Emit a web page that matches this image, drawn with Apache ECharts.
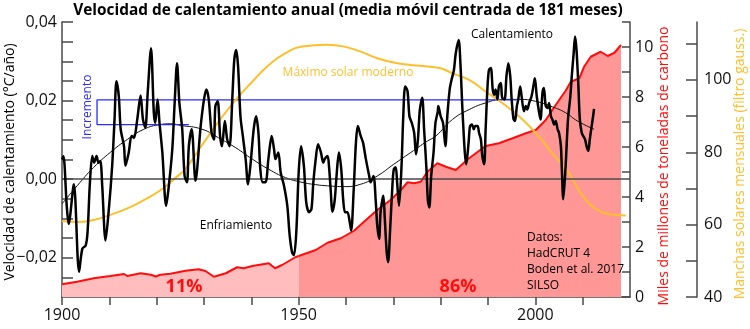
<!DOCTYPE html>
<html><head><meta charset="utf-8">
<script src="https://cdn.jsdelivr.net/npm/echarts@6/dist/echarts.min.js"></script>
<style>html,body{margin:0;padding:0;background:#fff}#c{width:750px;height:329px}</style>
</head><body><div id="c"></div>
<script>
// Warming rate (°C/año), 181-month centred moving average
const rateYears = [1900.0,1900.3,1901.0,1901.4,1902.5,1903.6,1904.3,1905.0,1905.4,1905.9,1906.4,1906.8,1907.3,1907.7,1908.1,1908.5,1909.2,1909.9,1910.6,1911.1,1911.5,1912.0,1912.4,1913.1,1913.4,1914.1,1914.7,1915.2,1915.9,1916.6,1917.1,1917.6,1918.1,1918.8,1919.4,1919.7,1920.2,1920.6,1921.2,1922.0,1922.5,1923.3,1923.8,1924.3,1924.8,1925.4,1925.9,1926.4,1926.8,1927.4,1928.2,1929.3,1930.0,1930.5,1931.0,1931.6,1932.1,1932.4,1932.9,1933.4,1933.8,1934.4,1934.9,1935.4,1936.0,1936.4,1936.8,1937.2,1937.7,1938.2,1938.8,1939.3,1939.8,1940.5,1941.0,1941.5,1941.9,1942.4,1943.0,1943.6,1944.3,1944.8,1945.1,1945.7,1946.2,1946.9,1947.6,1948.1,1948.6,1949.0,1949.5,1950.0,1950.5,1951.1,1951.6,1952.2,1952.7,1953.1,1953.6,1954.1,1954.7,1955.2,1955.5,1956.1,1956.4,1956.8,1957.1,1957.6,1958.0,1958.5,1959.0,1959.4,1959.8,1960.3,1960.8,1961.1,1961.6,1962.1,1962.5,1963.1,1963.6,1964.2,1964.9,1965.2,1965.8,1966.3,1966.6,1967.0,1967.3,1967.7,1967.9,1968.2,1968.6,1968.9,1969.3,1969.8,1970.1,1970.5,1970.8,1971.2,1971.7,1972.1,1972.5,1973.0,1973.4,1973.9,1974.4,1974.8,1975.2,1975.6,1976.1,1976.5,1977.0,1977.3,1977.6,1978.0,1978.5,1978.9,1979.4,1979.5,1980.0,1980.5,1981.0,1981.4,1981.9,1982.3,1982.8,1983.2,1983.8,1984.2,1984.6,1985.1,1985.4,1985.9,1986.2,1986.6,1987.0,1987.3,1987.8,1988.1,1988.5,1988.8,1989.2,1989.5,1989.9,1990.2,1990.6,1991.0,1991.3,1991.6,1992.0,1992.3,1992.7,1993.0,1993.5,1993.9,1994.3,1994.7,1995.0,1995.4,1995.7,1996.1,1996.4,1996.8,1997.1,1997.6,1998.0,1998.3,1998.7,1999.2,1999.7,1999.9,2000.3,2000.8,2001.1,2001.5,2001.8,2002.2,2002.6,2002.9,2003.3,2003.6,2004.0,2004.3,2004.7,2005.0,2005.4,2005.6,2005.9,2006.4,2006.9,2007.4,2007.7,2008.1,2008.4,2008.7,2009.1,2009.4,2009.8,2010.1,2010.5,2010.9,2011.2,2011.5,2011.9,2012.2,2012.4];
const rateValues = [0.0050,0.0058,-0.0068,-0.0114,-0.0013,-0.0236,-0.0177,-0.0169,-0.0135,-0.0008,0.0059,0.0042,0.0059,0.0042,0.0046,-0.0017,-0.0156,-0.0076,0.0034,0.0152,0.0249,0.0211,0.0127,0.0084,0.0034,0.0068,0.0110,0.0105,0.0152,0.0213,0.0152,0.0131,0.0219,0.0333,0.0169,0.0143,0.0203,0.0143,0.0068,-0.0068,-0.0025,0.0076,0.0194,0.0295,0.0194,0.0127,0.0008,-0.0008,0.0084,0.0127,-0.0004,0.0135,0.0203,0.0228,0.0203,0.0118,0.0101,0.0186,0.0198,0.0110,0.0084,0.0148,0.0101,0.0084,0.0211,0.0304,0.0329,0.0287,0.0160,0.0110,0.0051,-0.0013,0.0034,0.0127,0.0160,0.0118,0.0025,-0.0008,-0.0008,0.0051,0.0110,0.0076,0.0051,0.0068,0.0017,-0.0017,-0.0068,-0.0143,-0.0186,-0.0194,-0.0135,0.0017,0.0084,0.0034,-0.0059,-0.0084,-0.0076,-0.0008,0.0051,0.0089,0.0068,0.0042,0.0051,0.0059,0.0034,-0.0034,-0.0083,-0.0055,0.0008,0.0068,0.0025,-0.0051,-0.0084,-0.0084,-0.0110,-0.0131,-0.0034,0.0093,0.0135,0.0110,0.0093,0.0051,0.0008,-0.0008,0.0008,-0.0059,-0.0118,-0.0152,-0.0084,-0.0051,-0.0042,-0.0101,-0.0186,-0.0211,-0.0135,-0.0017,0.0025,0.0030,-0.0008,-0.0068,0.0025,0.0160,0.0236,0.0224,0.0160,0.0143,0.0118,0.0063,0.0101,0.0177,0.0207,0.0127,0.0025,-0.0055,-0.0072,0.0008,0.0068,0.0143,0.0173,0.0186,0.0160,0.0143,0.0084,0.0160,0.0228,0.0253,0.0278,0.0321,0.0354,0.0287,0.0177,0.0068,0.0038,0.0093,0.0135,0.0139,0.0127,0.0135,0.0135,0.0118,0.0101,0.0059,0.0038,0.0127,0.0236,0.0278,0.0283,0.0228,0.0215,0.0228,0.0203,0.0236,0.0245,0.0207,0.0203,0.0262,0.0295,0.0262,0.0203,0.0152,0.0148,0.0186,0.0203,0.0236,0.0211,0.0173,0.0186,0.0177,0.0194,0.0211,0.0245,0.0257,0.0211,0.0169,0.0152,0.0219,0.0232,0.0186,0.0181,0.0194,0.0160,0.0152,0.0139,0.0148,0.0127,0.0118,0.0084,0.0025,-0.0051,0.0034,0.0152,0.0211,0.0262,0.0321,0.0363,0.0329,0.0236,0.0152,0.0118,0.0110,0.0101,0.0080,0.0072,0.0101,0.0135,0.0160,0.0179];

// Thin sinusoidal fit
const trendYears = [1900.0,1903.2,1906.7,1910.2,1913.8,1917.3,1920.8,1922.9,1925.0,1929.6,1933.1,1936.7,1940.2,1943.7,1947.2,1950.7,1953.6,1956.1,1959.6,1963.1,1966.6,1970.1,1973.7,1977.2,1979.0,1982.5,1986.0,1989.5,1993.0,1996.6,2000.1,2003.6,2006.4,2008.9,2012.4];
const trendValues = [-0.0063,-0.0017,0.0030,0.0068,0.0101,0.0127,0.0139,0.0141,0.0137,0.0127,0.0105,0.0080,0.0051,0.0025,0.0004,-0.0008,-0.0014,-0.0017,-0.0019,-0.0013,0.0008,0.0038,0.0068,0.0097,0.0110,0.0152,0.0177,0.0194,0.0203,0.0203,0.0198,0.0184,0.0169,0.0148,0.0127];

// "Incremento" bracket (blue)
const bracketYears = [1996.2,1907.4,1907.4,1926.8];
const bracketValues = [0.0202,0.0202,0.0139,0.0139];

// Sunspots (gaussian filtered), right outer axis
const sunYears = [1900.0,1903.2,1906.7,1910.2,1913.8,1917.3,1920.8,1923.6,1926.1,1929.6,1933.1,1936.7,1940.2,1943.7,1947.2,1950.7,1956.1,1959.6,1963.1,1966.6,1970.1,1973.7,1977.2,1980.0,1982.5,1986.0,1989.5,1993.0,1996.6,2000.1,2003.6,2006.4,2007.5,2009.6,2011.7,2013.8,2016.0,2019.1];
const sunValues = [61.0,60.7,61.3,62.7,64.5,66.8,69.5,72.5,75.5,82.0,88.5,94.5,99.5,104.1,107.4,109.2,109.7,109.2,107.8,106.0,104.8,104.1,103.7,103.2,101.8,100.0,96.8,93.6,89.9,85.3,79.7,75.5,73.3,68.7,65.4,63.6,62.9,62.5];

// Carbon emissions (miles de millones de toneladas), right inner axis
const carbonYears = [1900.0,1903.2,1906.7,1910.2,1913.1,1913.8,1916.6,1918.8,1919.8,1920.8,1922.9,1926.1,1928.9,1930.3,1932.1,1934.6,1937.0,1938.4,1940.2,1943.7,1945.0,1946.5,1949.3,1950.0,1950.4,1953.6,1956.1,1958.9,1961.7,1963.8,1966.6,1969.4,1971.6,1973.0,1974.4,1975.8,1977.2,1979.3,1981.1,1983.2,1986.0,1989.5,1992.3,1995.2,1998.0,2000.1,2002.2,2004.3,2006.4,2007.5,2009.3,2010.3,2011.7,2013.8,2015.3,2016.7,2018.1];
const carbonValues = [0.51,0.61,0.75,0.84,0.92,0.84,0.95,0.89,0.82,0.89,0.93,1.05,1.11,1.04,0.81,0.95,1.19,1.15,1.24,1.35,1.15,1.28,1.59,1.64,1.70,1.88,2.17,2.35,2.65,3.01,3.48,3.88,4.28,4.59,4.55,4.61,5.01,5.35,5.21,5.08,5.55,6.04,6.15,6.35,6.55,6.68,7.08,7.68,8.25,8.61,8.75,9.21,9.61,9.81,9.64,9.77,10.08];
const splitYear = 1950;

// Tick / label values
const xTicks = [1900,1910,1920,1930,1940,1950,1960,1970,1980,1990,2000,2010];
const xLabels = [1900,1950,2000];
const leftTicks = [-0.025,-0.02,-0.015,-0.01,-0.005,0,0.005,0.01,0.015,0.02,0.025,0.03,0.035,0.04];
const leftLabels = [-0.02,0,0.02,0.04];
const carbonTicks = [0,1,2,3,4,5,6,7,8,9,10,11];
const carbonLabels = [0,2,4,6,8,10];
const sunTicks = [40,50,60,70,80,90,100,110];
const sunLabels = [40,60,80,100];

const FONT = '"Open Sans", "Noto Sans", sans-serif';
const AX = '#4a4a4a';
const RED = '#ff0d0d';
const ORANGE = '#ffbf2b';
const BLUE = '#2a2aff';

const zip = (a, b) => a.map((v, i) => [v, b[i]]);
const near = (arr, v) => arr.some(x => Math.abs(x - v) < 1e-7);

const carbonAll = zip(carbonYears, carbonValues);
const carbonPre = carbonAll.filter(p => p[0] <= splitYear);
const carbonPost = carbonAll.filter(p => p[0] >= splitYear);

const chart = echarts.init(document.getElementById('c'), null, {renderer: 'canvas'});
const option = {
  animation: false,
  backgroundColor: '#fff',
  textStyle: {fontFamily: FONT},
  grid: {left: 62, right: 120, top: 22, bottom: 32, containLabel: false},
  xAxis: {
    type: 'value', min: 1900, max: 2020, interval: 10,
    axisLine: {show: true, onZero: false, lineStyle: {color: AX, width: 1.5}},
    axisTick: {show: true, inside: false, length: 8, customValues: xTicks, lineStyle: {color: AX, width: 1.5}},
    axisLabel: {customValues: xLabels, fontSize: 16, color: '#111', margin: 10, fontFamily: FONT,
      formatter: v => near(xLabels, v) ? String(v) : ''},
    splitLine: {show: false}
  },
  yAxis: [
    {
      type: 'value', position: 'left', min: -0.03, max: 0.04, interval: 0.005,
      axisLine: {show: true, onZero: false, lineStyle: {color: AX, width: 1.5}},
      axisTick: {show: true, inside: true, length: 11, customValues: leftTicks, lineStyle: {color: AX, width: 1.5}},
      axisLabel: {customValues: leftLabels, fontSize: 16, color: '#111', margin: 5, fontFamily: FONT,
        formatter: v => near(leftLabels, v) ? v.toFixed(2).replace('.', ',').replace('-', '\u2212') : ''},
      splitLine: {show: false}
    },
    {
      type: 'value', position: 'right', offset: 0, min: 0, max: 11, interval: 1,
      axisLine: {show: true, onZero: false, lineStyle: {color: AX, width: 1.5}},
      axisTick: {show: true, inside: true, length: 8, customValues: carbonTicks, lineStyle: {color: AX, width: 1.5}},
      axisLabel: {customValues: carbonLabels, fontSize: 16, color: '#111', margin: 5, fontFamily: FONT,
        formatter: v => near(carbonLabels, v) ? String(v) : ''},
      splitLine: {show: false}
    },
    {
      type: 'value', position: 'right', offset: 67, min: 40, max: 116, interval: 10,
      axisLine: {show: true, onZero: false, lineStyle: {color: AX, width: 1.5}},
      axisTick: {show: true, inside: true, length: 11, customValues: sunTicks, lineStyle: {color: AX, width: 1.5}},
      axisLabel: {customValues: sunLabels, fontSize: 16, color: '#111', margin: 7, fontFamily: FONT,
        formatter: v => near(sunLabels, v) ? String(v) : ''},
      splitLine: {show: false}
    }
  ],
  series: [
    {name: 'carbonPre', type: 'line', yAxisIndex: 1, data: carbonPre, symbol: 'none', z: 1,
      lineStyle: {color: RED, width: 2}, areaStyle: {color: '#ffbdbd', opacity: 1}},
    {name: 'carbonPost', type: 'line', yAxisIndex: 1, data: carbonPost, symbol: 'none', z: 1,
      lineStyle: {color: RED, width: 2}, areaStyle: {color: '#ff9797', opacity: 1}},
    {name: 'trend', type: 'line', yAxisIndex: 0, data: zip(trendYears, trendValues), symbol: 'none', smooth: true, z: 3,
      lineStyle: {color: '#111', width: 1}},
    {name: 'bracket', type: 'line', yAxisIndex: 0, data: zip(bracketYears, bracketValues), symbol: 'none', z: 3,
      lineStyle: {color: BLUE, width: 1.3}},
    {name: 'sun', type: 'line', yAxisIndex: 2, data: zip(sunYears, sunValues), symbol: 'none', smooth: true, z: 4,
      lineStyle: {color: ORANGE, width: 2}},
    {name: 'rate', type: 'line', yAxisIndex: 0, data: zip(rateYears, rateValues), symbol: 'none', smooth: 0.3, z: 5,
      lineStyle: {color: '#000', width: 2.5},
      markLine: {silent: true, symbol: 'none', label: {show: false}, animation: false,
        lineStyle: {color: AX, width: 1.5, type: 'solid'}, data: [{yAxis: 0}]}}
  ],
  graphic: [
    {type: 'text', x: 348, y: 11, z: 10, style: {text: 'Velocidad de calentamiento anual (media móvil centrada de 181 meses)', fill: '#000', fontFamily: FONT, fontWeight: 'bold', fontSize: 15.4, align: 'center', verticalAlign: 'middle', textAlign: 'center', textVerticalAlign: 'middle'}},
    {type: 'text', x: 10, y: 162, rotation: Math.PI / 2, z: 10, style: {text: 'Velocidad de calentamiento (°C/año)', fill: '#000', fontFamily: FONT, fontSize: 14, align: 'center', verticalAlign: 'middle', textAlign: 'center', textVerticalAlign: 'middle'}},
    {type: 'text', x: 664, y: 166, rotation: Math.PI / 2, z: 10, style: {text: 'Miles de millones de toneladas de carbono', fill: RED, fontFamily: FONT, fontSize: 14, align: 'center', verticalAlign: 'middle', textAlign: 'center', textVerticalAlign: 'middle'}},
    {type: 'text', x: 740, y: 164, rotation: Math.PI / 2, z: 10, style: {text: 'Manchas solares mensuales (filtro gauss.)', fill: ORANGE, fontFamily: FONT, fontSize: 14, align: 'center', verticalAlign: 'middle', textAlign: 'center', textVerticalAlign: 'middle'}},
    {type: 'text', x: 512, y: 35, z: 10, style: {text: 'Calentamiento', fill: '#000', fontFamily: FONT, fontSize: 12, align: 'center', verticalAlign: 'middle', textAlign: 'center', textVerticalAlign: 'middle'}},
    {type: 'text', x: 236, y: 226, z: 10, style: {text: 'Enfriamiento', fill: '#000', fontFamily: FONT, fontSize: 12, align: 'center', verticalAlign: 'middle', textAlign: 'center', textVerticalAlign: 'middle'}},
    {type: 'text', x: 348, y: 73, z: 10, style: {text: 'Máximo solar moderno', fill: ORANGE, fontFamily: FONT, fontSize: 12, align: 'center', verticalAlign: 'middle', textAlign: 'center', textVerticalAlign: 'middle'}},
    {type: 'text', x: 88, y: 107, rotation: Math.PI / 2, z: 10, style: {text: 'Incremento', fill: BLUE, fontFamily: FONT, fontSize: 12, align: 'center', verticalAlign: 'middle', textAlign: 'center', textVerticalAlign: 'middle'}},
    {type: 'text', x: 527, y: 230, z: 10, style: {text: 'Datos:\nHadCRUT 4\nBoden et al. 2017\nSILSO', fill: '#000', fontFamily: FONT, fontSize: 12, lineHeight: 16, align: 'left', verticalAlign: 'top', textAlign: 'left', textVerticalAlign: 'top'}},
    {type: 'text', x: 184, y: 287, z: 10, style: {text: '11%', fill: RED, fontFamily: FONT, fontWeight: 'bold', fontSize: 18, align: 'center', verticalAlign: 'middle', textAlign: 'center', textVerticalAlign: 'middle'}},
    {type: 'text', x: 458, y: 287, z: 10, style: {text: '86%', fill: RED, fontFamily: FONT, fontWeight: 'bold', fontSize: 18, align: 'center', verticalAlign: 'middle', textAlign: 'center', textVerticalAlign: 'middle'}}
  ]
};
chart.setOption(option);
</script>
</body></html>
